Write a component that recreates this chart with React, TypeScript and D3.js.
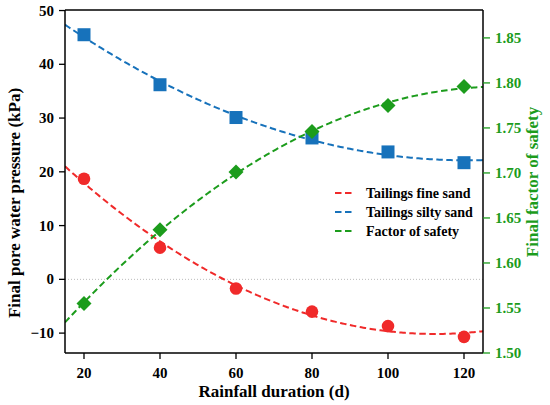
import React from "react";
import * as d3 from "d3";

const durations = [20, 40, 60, 80, 100, 120];
const fineSand = [18.7, 5.9, -1.7, -6.0, -8.7, -10.7];
const siltySand = [45.5, 36.2, 30.1, 26.3, 23.7, 21.7];
const safety = [1.555, 1.637, 1.701, 1.746, 1.775, 1.796];

const xTicks = [20, 40, 60, 80, 100, 120];
const leftTicks = [-10, 0, 10, 20, 30, 40, 50];
const rightTicks = [1.5, 1.55, 1.6, 1.65, 1.7, 1.75, 1.8, 1.85];

const RED = "#f02a2a";
const BLUE = "#1772bb";
const GREEN = "#1c9c1c";

function quadFit(xs: number[], ys: number[]) {
  const n = xs.length;
  const s = [0, 0, 0, 0, 0];
  const t = [0, 0, 0];
  for (let i = 0; i < n; i++) {
    const x = xs[i];
    for (let k = 0; k < 5; k++) s[k] += Math.pow(x, k);
    for (let k = 0; k < 3; k++) t[k] += ys[i] * Math.pow(x, k);
  }
  const M = [
    [s[0], s[1], s[2], t[0]],
    [s[1], s[2], s[3], t[1]],
    [s[2], s[3], s[4], t[2]],
  ];
  for (let i = 0; i < 3; i++) {
    let p = i;
    for (let r = i + 1; r < 3; r++) if (Math.abs(M[r][i]) > Math.abs(M[p][i])) p = r;
    [M[i], M[p]] = [M[p], M[i]];
    for (let r = 0; r < 3; r++) {
      if (r === i) continue;
      const f = M[r][i] / M[i][i];
      for (let c = i; c < 4; c++) M[r][c] -= f * M[i][c];
    }
  }
  const a = M[0][3] / M[0][0];
  const b = M[1][3] / M[1][1];
  const c = M[2][3] / M[2][2];
  return (x: number) => a + b * x + c * x * x;
}

const W = 550;
const H = 405;
const L = 65, R = 483, T = 10, B = 353;
const FONT = "Liberation Serif";

function Txt(props: any) {
  const { style, children, ...rest } = props;
  return (
    <text fontWeight="bold" {...rest} style={{ fontFamily: FONT, ...(style || {}) }}>
      {children}
    </text>
  );
}

export default function App() {
  const x = d3.scaleLinear().domain([15, 125]).range([L, R]);
  const yL = d3.scaleLinear().domain([-13.7, 50.1]).range([B, T]);
  const yR = d3.scaleLinear().domain([1.5, 1.881]).range([B, T]);

  const xs = d3.range(15, 125.01, 0.5);
  const fitLine = (f: (v: number) => number, y: d3.ScaleLinear<number, number>) =>
    d3.line<number>().x((v) => x(v)).y((v) => y(f(v)))(xs) || "";

  const fRed = quadFit(durations, fineSand);
  const fBlue = quadFit(durations, siltySand);
  const fGreen = quadFit(durations, safety);

  const dash = "6.5,3.5";

  const legend = [
    { label: "Tailings fine sand", color: RED },
    { label: "Tailings silty sand", color: BLUE },
    { label: "Factor of safety", color: GREEN },
  ];

  return (
    <svg width={W} height={H} style={{ position: "absolute", left: 0, top: 0, background: "#fff" }}>
      <defs>
        <clipPath id="plotclip">
          <rect x={L} y={T} width={R - L} height={B - T} />
        </clipPath>
      </defs>
      <line x1={L} x2={R} y1={yL(0)} y2={yL(0)} stroke="#aaa" strokeWidth={0.8} strokeDasharray="1,2" />
      <g clipPath="url(#plotclip)" fill="none" strokeWidth={2} strokeDasharray={dash}>
        <path d={fitLine(fRed, yL)} stroke={RED} />
        <path d={fitLine(fBlue, yL)} stroke={BLUE} />
        <path d={fitLine(fGreen, yR)} stroke={GREEN} />
      </g>
      {durations.map((d, i) => (
        <circle key={"r" + i} cx={x(d)} cy={yL(fineSand[i])} r={6.3} fill={RED} />
      ))}
      {durations.map((d, i) => (
        <rect key={"b" + i} x={x(d) - 6.5} y={yL(siltySand[i]) - 6.5} width={13} height={13} fill={BLUE} />
      ))}
      {durations.map((d, i) => {
        const cx = x(d), cy = yR(safety[i]), s = 7.5;
        return (
          <path key={"g" + i} d={`M${cx},${cy - s}L${cx + s},${cy}L${cx},${cy + s}L${cx - s},${cy}Z`} fill={GREEN} />
        );
      })}
      <line x1={L} x2={R} y1={T} y2={T} stroke="#000" strokeWidth={1.5} />
      <line x1={L} x2={R} y1={B} y2={B} stroke="#000" strokeWidth={1.5} />
      <line x1={L} x2={L} y1={T} y2={B} stroke="#000" strokeWidth={1.5} />
      <line x1={R} x2={R} y1={T} y2={B} stroke="#000" strokeWidth={1.5} />
      {xTicks.map((t) => (
        <g key={"x" + t}>
          <line x1={x(t)} x2={x(t)} y1={B} y2={B + 6} stroke="#000" strokeWidth={1.3} />
          <Txt x={x(t)} y={378} textAnchor="middle" fontSize={15}>{t}</Txt>
        </g>
      ))}
      {leftTicks.map((t) => (
        <g key={"l" + t}>
          <line x1={L - 6} x2={L} y1={yL(t)} y2={yL(t)} stroke="#000" strokeWidth={1.3} />
          <Txt x={L - 11} y={yL(t) + 5} textAnchor="end" fontSize={15}>
            {t < 0 ? "\u2212" + Math.abs(t) : t}
          </Txt>
        </g>
      ))}
      {rightTicks.map((t) => (
        <g key={"rt" + t}>
          <line x1={R} x2={R + 7} y1={yR(t)} y2={yR(t)} stroke={GREEN} strokeWidth={1.3} />
          <Txt x={R + 12} y={yR(t) + 5} textAnchor="start" fontSize={15} fill={GREEN}>
            {t.toFixed(2)}
          </Txt>
        </g>
      ))}
      <Txt x={274} y={397} textAnchor="middle" fontSize={17}>Rainfall duration (d)</Txt>
      <Txt transform={`translate(20,203) rotate(-90)`} textAnchor="middle" fontSize={17}>
        Final pore water pressure (kPa)
      </Txt>
      <Txt transform={`translate(538,182) rotate(-90)`} textAnchor="middle" fontSize={17} fill={GREEN}>
        Final factor of safety
      </Txt>
      {legend.map((l, i) => {
        const yy = 193 + i * 19;
        return (
          <g key={l.label}>
            <line x1={335} x2={354} y1={yy} y2={yy} stroke={l.color} strokeWidth={2} strokeDasharray="6.5,3.5" />
            <Txt x={366} y={yy + 4.5} fontSize={14}>{l.label}</Txt>
          </g>
        );
      })}
    </svg>
  );
}
